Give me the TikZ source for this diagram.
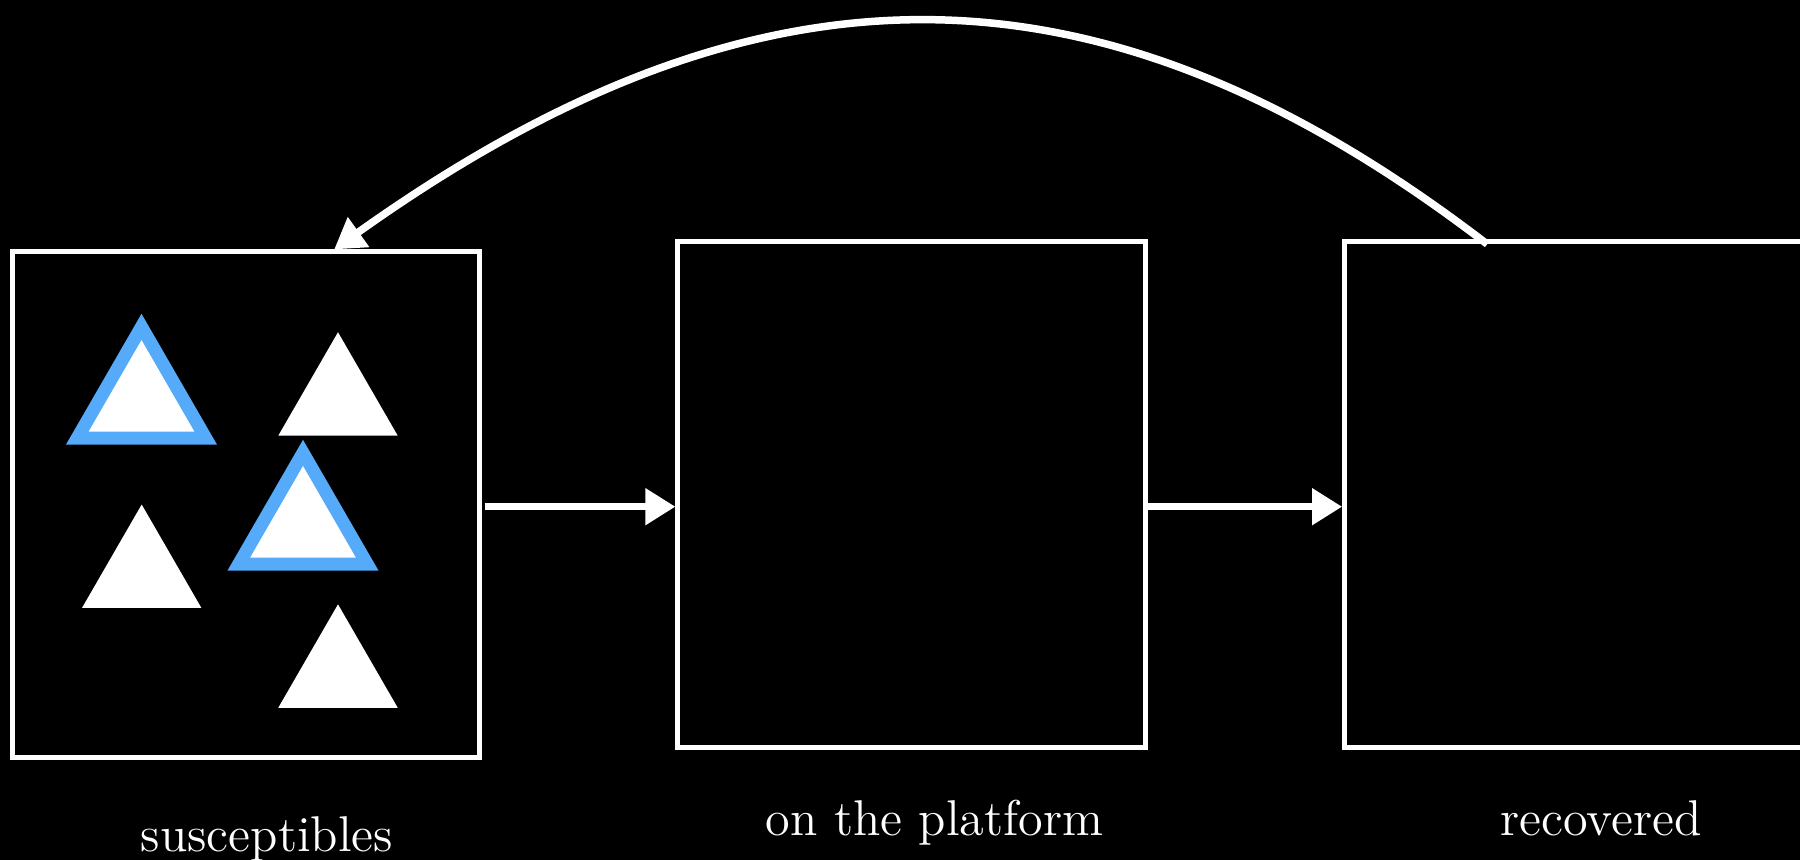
\documentclass[tikz,border=0pt]{standalone}
\usepackage{fontspec}
\usepackage{xcolor}
\usepackage{tikz}
\usetikzlibrary{shapes.geometric, arrows.meta, calc}

\definecolor{skyblue}{RGB}{85,170,250}

\begin{document}
\begin{tikzpicture}[x=0.1mm, y=-0.1mm,
        stage/.style={draw=white, line width=0.5mm, minimum width=46.75mm, minimum height=50.55mm, inner sep=0pt},
        person/.style={regular polygon, regular polygon sides=3, fill=white, inner sep=0pt, minimum size=13.79mm},
        infected/.style={person, draw=skyblue, line width=1.3mm, minimum size=14.84mm},
        flow/.style={white, line width=0.75mm, -{Triangle[length=3mm,width=3.5mm]}},
        caption/.style={white, anchor=base, font=\fontsize{14.3}{17}\selectfont}]
            \fill[black] (0,0) rectangle (1800,860);
            \useasboundingbox (0,0) rectangle (1800,860);
            % the three stages
            \node[stage] (susc) at (245.8,504.7) {};
            \node[stage] (plat) at (911.7,494.4) {};
            \node[stage] (reco) at (1578.4,494.4) {};
            \node[caption] (susclbl) at (267,851) {susceptibles};
            \node[caption] (platlbl) at (934.7,835) {on the platform};
            \node[caption] (recolbl) at (1601,835) {recovered};
            % people in the first stage
            \node[infected] (p1) at (141.5,401) {};
            \node[person] (p2) at (338,401.2) {};
            \node[person] (p3) at (141.7,573.5) {};
            \node[infected] (p4) at (303,527) {};
            \node[person] (p5) at (338,673.3) {};
            % flows
            \draw[flow, shorten <=0.25mm] (susc.east |- 0,506.7) -- (plat.west |- 0,506.7);
            \draw[flow] (plat.east |- 0,506.7) -- (reco.west |- 0,506.7);
            \coordinate (back) at ($(reco.north west)!0.307!(reco.north east) + (0,5)$);
            \coordinate (again) at ($(susc.north west)!0.687!(susc.north east)$);
            \draw[flow] (back) .. controls +(-377,-289) and +(436,-311) .. (again);
        \end{tikzpicture}
\end{document}
